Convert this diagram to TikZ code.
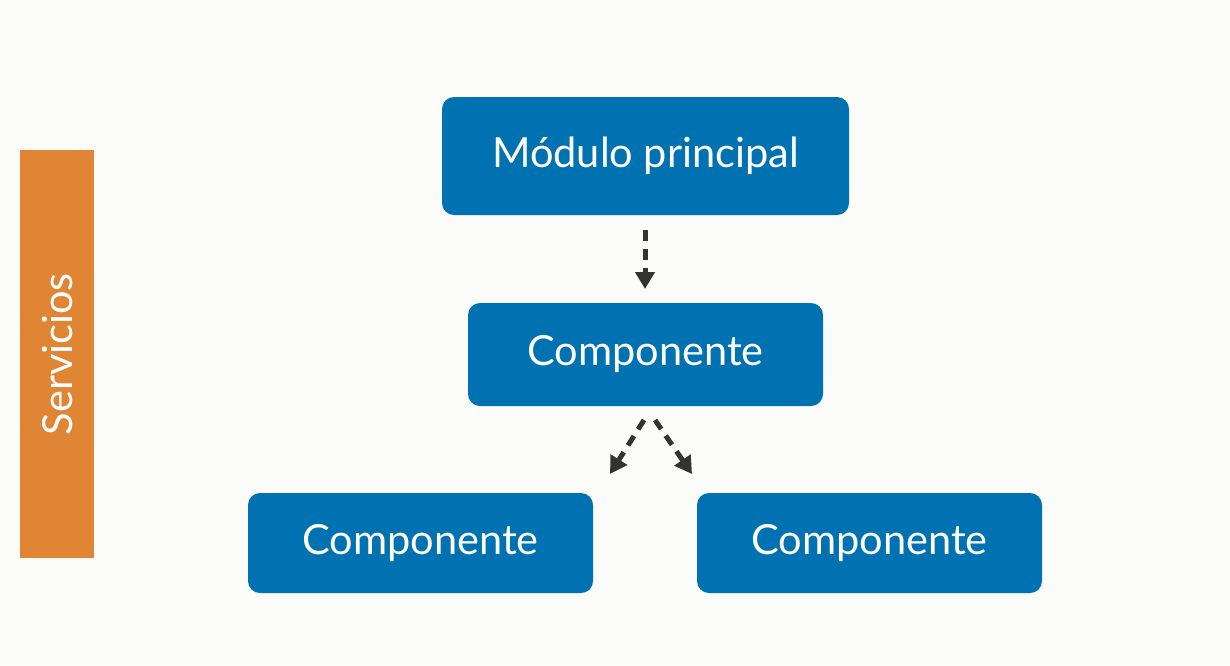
\documentclass[tikz,border=0pt]{standalone}
\usepackage{fontspec}
\setmainfont{Lato}
\usetikzlibrary{arrows.meta}
\definecolor{bg}{HTML}{FBFBF9}
\definecolor{boxblue}{HTML}{0071B1}
\definecolor{barorange}{HTML}{E08533}
\definecolor{arrowgray}{HTML}{333333}
\tikzset{
  bigtext/.style={font=\fontsize{41.5}{44}\selectfont},
  blockbox/.style={fill=boxblue, rounded corners=12pt, text=white, bigtext, inner sep=0pt},
  dasharrow/.style={draw=arrowgray, line width=5pt, dash pattern=on 11pt off 8pt, -{Triangle[length=17pt,width=19pt]}}
}
\begin{document}
\begin{tikzpicture}[x=1pt,y=-1pt]
\fill[bg] (0,0) rectangle (1230,665);
\useasboundingbox (0,0) rectangle (1230,665);
\node[fill=barorange, minimum width=74pt, minimum height=408pt, inner sep=0pt, anchor=north west] (bar) at (20,150) {};
\node[rotate=90, text=white, bigtext] (serv) at (bar.center) {Servicios};
\node[blockbox, minimum width=407pt, minimum height=118pt] (main) at (645.5,156) {Módulo principal};
\node[blockbox, minimum width=355pt, minimum height=103pt] (comp) at (645.5,354.5) {Componente};
\node[blockbox, minimum width=345pt, minimum height=100pt] (left) at (420.5,543) {Componente};
\node[blockbox, minimum width=345pt, minimum height=100pt] (right) at (869.5,543) {Componente};
\coordinate (a1s) at (645,230);
\coordinate (a1e) at (645,289);
\coordinate (a2s) at (644,420);
\coordinate (a2e) at (610,474);
\coordinate (a3s) at (655,420);
\coordinate (a3e) at (692,474);
\draw[dasharrow] (a1s) -- (a1e);
\draw[dasharrow] (a2s) -- (a2e);
\draw[dasharrow] (a3s) -- (a3e);
\end{tikzpicture}
\end{document}
